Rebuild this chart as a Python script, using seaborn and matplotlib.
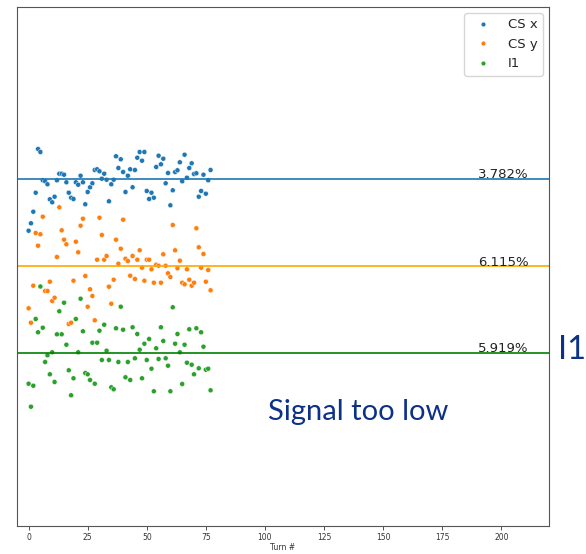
import matplotlib
matplotlib.use("Agg")
import matplotlib.pyplot as plt
import seaborn as sns
import pandas as pd
from matplotlib.lines import Line2D

# Turn index
turns = list(range(78))

# Signal values (arbitrary units, offset per channel)
cs_x = [295.3, 302.7, 314.3, 333.3, 377.0, 374.0, 345.7, 344.7, 341.7, 326.7,
        323.7, 329.3, 345.7, 352.3, 352.3, 351.3, 343.7, 333.3, 328.3, 327.0,
        343.7, 341.3, 350.3, 343.7, 321.7, 334.0, 338.7, 342.7, 356.0, 356.7,
        354.7, 347.3, 352.3, 346.3, 324.7, 341.7, 346.3, 369.7, 358.0, 366.7,
        354.0, 334.0, 350.3, 356.7, 338.7, 356.0, 368.3, 374.0, 365.3, 374.0,
        335.0, 327.0, 333.3, 328.3, 359.0, 370.3, 361.7, 367.3, 342.7, 353.0,
        320.7, 335.7, 354.0, 355.7, 363.7, 344.7, 371.3, 348.3, 358.0, 362.7,
        352.0, 352.7, 329.3, 335.0, 351.3, 332.3, 345.7, 356.0]

cs_y = [217.7, 203.3, 240.3, 293.0, 280.3, 291.7, 309.3, 235.0, 235.0, 244.3,
        225.0, 228.3, 269.0, 318.7, 295.7, 286.3, 281.7, 202.0, 203.3, 245.3,
        284.3, 273.7, 300.3, 307.3, 250.0, 219.3, 236.7, 230.0, 205.7, 266.3,
        308.3, 291.0, 266.3, 270.0, 239.3, 222.3, 246.3, 286.3, 262.3, 277.3,
        306.3, 267.3, 265.0, 250.3, 270.0, 247.0, 266.3, 275.7, 258.3, 245.3,
        266.3, 266.3, 256.7, 243.3, 261.3, 260.3, 243.3, 271.7, 260.3, 252.7,
        249.0, 301.0, 275.7, 257.7, 265.3, 243.3, 241.7, 256.7, 246.3, 240.3,
        243.3, 297.7, 278.7, 258.3, 272.0, 244.3, 256.0, 235.7]

i1 = [142.3, 119.3, 140.3, 207.0, 193.7, 239.5, 198.3, 164.0, 170.7, 151.7,
      173.7, 144.0, 191.7, 214.7, 191.7, 223.3, 181.3, 155.7, 130.7, 147.7,
      207.0, 173.7, 227.3, 194.7, 153.0, 151.7, 146.0, 183.3, 142.3, 183.3,
      195.3, 166.0, 201.3, 175.3, 166.0, 138.7, 136.7, 197.7, 164.0, 219.3,
      196.3, 148.7, 164.0, 146.0, 198.7, 167.7, 192.0, 176.3, 147.7, 182.3,
      166.0, 187.0, 157.3, 134.7, 177.7, 167.0, 198.7, 185.0, 167.7, 160.3,
      134.7, 218.7, 182.3, 192.0, 173.7, 142.0, 181.3, 163.3, 196.7, 161.3,
      151.7, 197.7, 157.7, 193.7, 179.3, 156.3, 157.3, 135.7]

series_names = ["CS x", "CS y", "I1"]
mean_levels = [347.0, 260.0, 173.0]
pct_labels = ["3.782%", "6.115%", "5.919%"]
xticks = [0, 25, 50, 75, 100, 125, 150, 175, 200]

df = pd.DataFrame({
    "turn": turns * 3,
    "value": cs_x + cs_y + i1,
    "series": [series_names[0]] * len(cs_x) + [series_names[1]] * len(cs_y) + [series_names[2]] * len(i1),
})

sns.set_style("white")
plt.rcParams["font.family"] = ["DejaVu Sans"]

fig = plt.figure(figsize=(5.86, 5.54), dpi=100)
ax = fig.add_axes([17 / 586, 1 - 526 / 554, (549 - 17) / 586, (526 - 7) / 554])

pal = {"CS x": "#1f77b4", "CS y": "#ff7f0e", "I1": "#2ca02c"}
sns.scatterplot(data=df, x="turn", y="value", hue="series", palette=pal,
                s=13, linewidth=0.3, edgecolor="white", ax=ax, legend=False)

line_colors = ["#1f77b4", "orange", "green"]
for lvl, col, lab in zip(mean_levels, line_colors, pct_labels):
    ax.axhline(lvl, color=col, lw=1.2, zorder=1)
    ax.text(190, lvl + 0.5, lab, fontsize=9.5, color="#222222", ha="left", va="baseline", zorder=3)

# legend
handles = [Line2D([], [], marker=".", ls="", color=pal[n], markersize=4) for n in series_names]
leg = ax.legend(handles, series_names, loc="upper right", fontsize=9.5, frameon=True,
                borderaxespad=0.45, handletextpad=0.9)
leg.get_frame().set_edgecolor("#cccccc")

ax.set_xlim(-4.9, 220.2)
ax.set_ylim(0, 519)
ax.set_xticks(xticks)
ax.set_xticklabels([str(t) for t in xticks], fontsize=5.5, color="#333333")
ax.set_yticks([])
ax.tick_params(axis="x", direction="out", length=3, width=0.6, color="#333333", bottom=True, pad=2)
ax.set_xlabel("Turn #", fontsize=5.5, color="#333333", labelpad=1)
ax.set_ylabel("")
for sp in ax.spines.values():
    sp.set_color("#555555")
    sp.set_linewidth(0.8)

ax.text(139.5, 114, "Signal too low", fontsize=21, color="#0d3188", family=["Lato", "DejaVu Sans"],
        ha="center", va="center")
fig.text(572 / 586, 1 - 350 / 554, "I1", fontsize=23.5, color="#0d3188", family=["Lato", "DejaVu Sans"],
         ha="center", va="center")

fig.savefig("out.png", dpi=100)
